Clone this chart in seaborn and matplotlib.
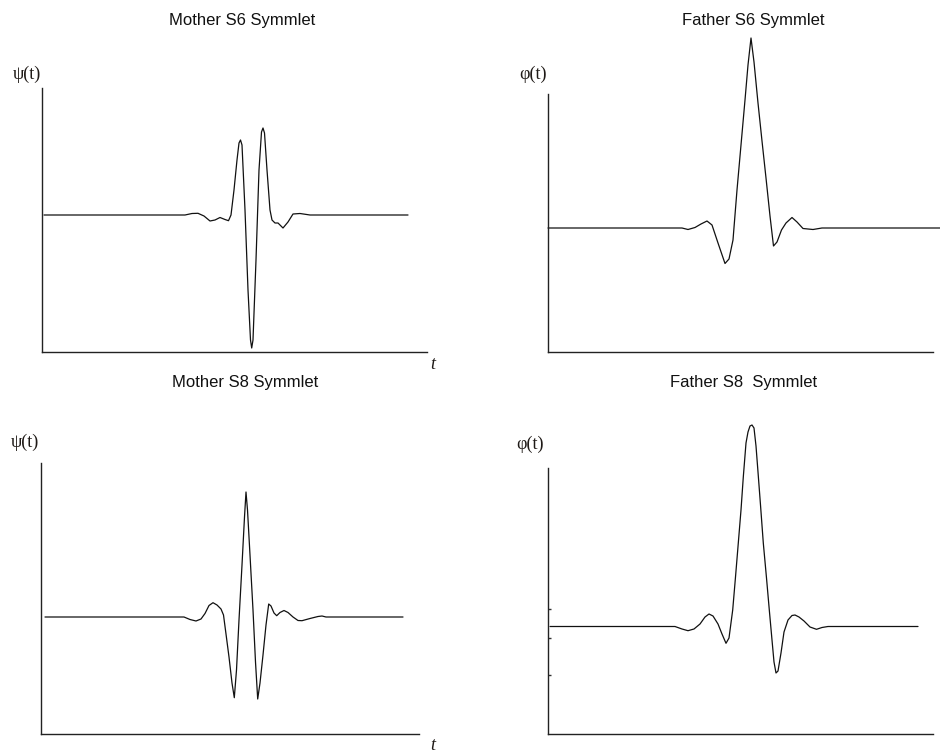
import matplotlib
matplotlib.use("Agg")
import matplotlib.pyplot as plt
import seaborn as sns

sns.set_theme(style="white")
plt.rcParams['font.family'] = ['Liberation Sans', 'DejaVu Sans']

# Mother S6 symmlet (t, psi)
s6_mother_t = [2, 143, 150, 156, 162, 168, 173, 178, 183, 186.5, 189, 192, 195, 197, 198.5, 200,
               203, 206, 208.5, 209.7, 211, 214, 217, 219.5, 221, 222.5, 225, 228, 230, 233, 236,
               241, 246, 251, 258, 268, 366]
s6_mother_psi = [0, 0, 1.5, 1.7, -1, -6, -5, -2.5, -4.5, -5.7, 0, 25, 55, 72, 75, 70,
                 5, -75, -125, -133, -125, -45, 45, 83, 87, 82, 45, 5, -5, -8, -8,
                 -13, -7, 1, 1.5, 0, 0]

# Father S6 symmlet (t, phi)
s6_father_t = [0, 134, 140, 147, 153, 159, 164, 170, 177, 181, 185, 189, 193, 197, 200, 203,
               206, 210, 214, 218, 222, 225.5, 229, 233.5, 238, 244, 249, 255, 265, 274, 392]
s6_father_phi = [0, 0, -1.5, 0.5, 4, 7, 3, -15, -35.5, -31, -12, 38, 83, 128, 163, 190,
                 166, 125, 87, 50, 12, -18, -14, -2, 5, 10.5, 6, -0.5, -1.5, 0, 0]

# Mother S8 symmlet (t, psi)
s8_mother_t = [4, 143, 149, 155, 160, 164, 168, 172, 176, 180, 182.5, 185, 188, 191, 193.3,
               195.5, 198, 201, 203.5, 205, 206.5, 209, 212, 214.5, 216.7, 219, 222, 225, 227.7,
               230, 233, 235.7, 239, 243, 247, 252, 257, 261, 269, 277, 281, 285, 362]
s8_mother_psi = [0, 0, -2.5, -4, -2, 3.5, 11.5, 14.3, 12, 8, 2, -17, -40, -66, -80.7,
                 -53, -3, 52, 100, 125, 107, 62, 7, -45, -82, -66, -38, -8, 13,
                 11, 4, 1.3, 4.5, 6.5, 4.5, 0, -3.5, -3.7, -1.5, 0.5, 1, 0, 0]

# Father S8 symmlet (t, phi)
s8_father_t = [2, 127, 134, 140, 146, 152, 157, 161, 165, 170, 174, 178, 181, 184.7, 187.5,
               190.3, 193, 195.3, 198, 200, 202, 204, 206, 208, 210, 212.5, 215.3, 218.5, 221.3,
               224, 226, 228, 230, 233, 236, 240, 244, 247, 251, 256, 262, 268.5, 274, 280, 370]
s8_father_phi = [0, 0, -2.5, -4.2, -2.5, 2.5, 9.5, 12.5, 10.5, 2.5, -7.5, -16.8, -11.5, 16.5, 49.5,
                 83.5, 116.5, 149.5, 183.5, 194.5, 200.5, 201.5, 198.5, 180.5, 154.5, 121.5, 83.5,
                 48.5, 16.5, -13.5, -35.5, -46.5, -44.5, -26.5, -5.5, 6.5, 11, 11.5, 9.5, 5.5,
                 -0.5, -2.8, -1, 0, 0]
s8_father_ticks = [17.2, -11.5, -48.2]

titles = ["Mother S6 Symmlet", "Father S6 Symmlet", "Mother S8 Symmlet", "Father S8  Symmlet"]
ylabels = ["\u03c8(t)", "\u03c6(t)", "\u03c8(t)", "\u03c6(t)"]

W, H = 940, 754
fig = plt.figure(figsize=(W / 100, H / 100), dpi=100)

# panel boxes in pixels: left, right, top, bottom, then y limits
panels = [
    dict(box=(42, 427, 88, 352), ylim=(-137, 127), t=s6_mother_t, y=s6_mother_psi,
         title_xy=(242, 20), lab_xy=(27, 74), show_t=True),
    dict(box=(548, 933, 94, 352), ylim=(-124, 134), t=s6_father_t, y=s6_father_phi,
         title_xy=(753, 21), lab_xy=(533, 74), show_t=False),
    dict(box=(41, 419, 463, 734), ylim=(-117, 154), t=s8_mother_t, y=s8_mother_psi,
         title_xy=(245, 383), lab_xy=(25, 442), show_t=True),
    dict(box=(548, 933, 468, 734), ylim=(-107.5, 158.5), t=s8_father_t, y=s8_father_phi,
         title_xy=(744, 383), lab_xy=(530, 444), show_t=False),
]

for i, p in enumerate(panels):
    l, r, top, b = p["box"]
    ax = fig.add_axes([l / W, 1 - b / H, (r - l) / W, (b - top) / H])
    ax.set_facecolor("none")
    sns.lineplot(x=p["t"], y=p["y"], ax=ax, color="#111111", linewidth=0.9,
                 sort=False, estimator=None)
    for line in ax.lines:
        line.set_clip_on(False)
    ax.set_xlim(0, r - l)
    ax.set_ylim(*p["ylim"])
    ax.set_xticks([])
    if i == 3:
        ax.set_yticks(s8_father_ticks)
        ax.set_yticklabels([])
        ax.tick_params(axis="y", direction="in", length=2, width=1, color="#333333", left=True)
    else:
        ax.set_yticks([])
    for s in ["top", "right"]:
        ax.spines[s].set_visible(False)
    for s in ["left", "bottom"]:
        ax.spines[s].set_color("#222222")
        ax.spines[s].set_linewidth(1.0)

    fig.text(p["title_xy"][0] / W, 1 - p["title_xy"][1] / H, titles[i],
             ha="center", va="center", fontsize=12, color="#111111")
    fig.text(p["lab_xy"][0] / W, 1 - p["lab_xy"][1] / H, ylabels[i],
             ha="center", va="center", fontsize=13, color="#1f1a17",
             family=["Liberation Serif", "DejaVu Serif"])
    if p["show_t"]:
        fig.text(433 / W, 1 - (b + 12) / H, "t", ha="center", va="center",
                 fontsize=13, style="italic", color="#1f1a17",
                 family=["Liberation Serif", "DejaVu Serif"])

fig.savefig("out.png", dpi=100)
